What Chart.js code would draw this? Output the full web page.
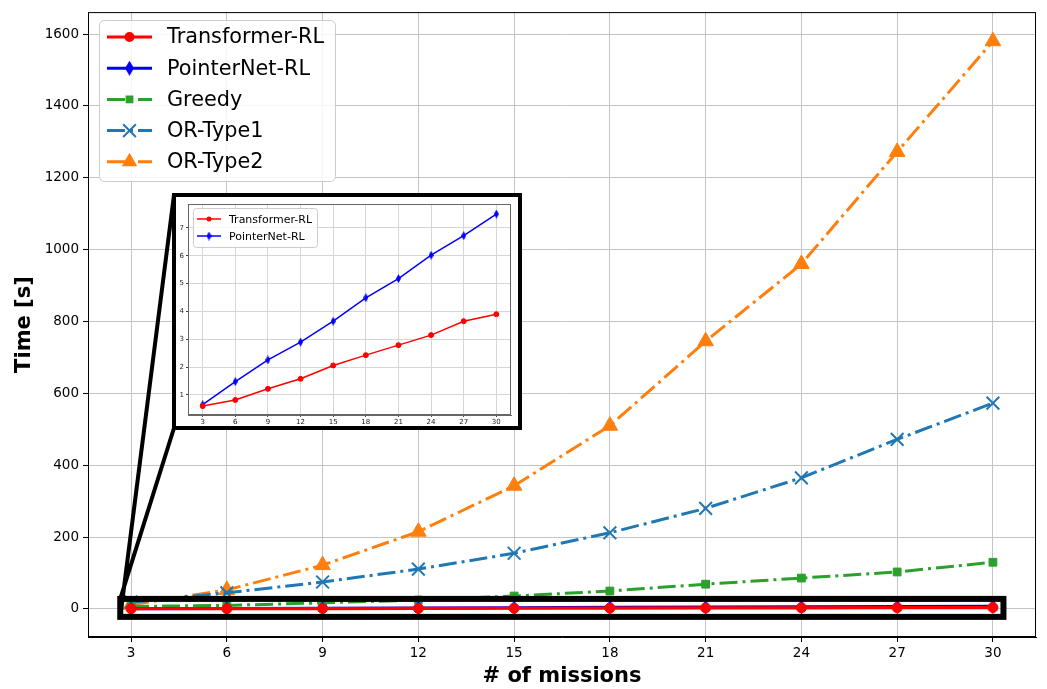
<!DOCTYPE html>
<html>
<head>
<meta charset="utf-8">
<script src="https://cdn.jsdelivr.net/npm/chart.js@4/dist/chart.umd.min.js"></script>
<style>
  body { margin: 0; background: #fff; }
  #wrap { position: relative; width: 1047px; height: 689px; }
  #main { position: absolute; left: 0; top: 0; }
  #insetBox {
    position: absolute; left: 172px; top: 193px; width: 350px; height: 237px;
    box-sizing: border-box; border: 4px solid #000; background: #fff;
  }
  #inset { display: block; }
</style>
</head>
<body>
<div id="wrap">
  <canvas id="main" width="1047" height="689"></canvas>
  <div id="insetBox"><canvas id="inset" width="342" height="229"></canvas></div>
</div>
<script>
// chart data
const missions = [3, 6, 9, 12, 15, 18, 21, 24, 27, 30];
const transformerRL = [0.6, 0.82, 1.22, 1.58, 2.06, 2.43, 2.79, 3.15, 3.65, 3.9];
const pointerNetRL = [0.65, 1.48, 2.26, 2.9, 3.65, 4.49, 5.18, 6.02, 6.72, 7.5];
const greedy = [7, 10, 17, 25, 36, 50, 69, 86, 103, 130];
const orType1 = [19, 45, 75, 111, 155, 212, 280, 365, 472, 573];
const orType2 = [12, 53, 122, 215, 343, 510, 745, 960, 1272, 1580];
const yTicksMain = [0, 200, 400, 600, 800, 1000, 1200, 1400, 1600];
const yTicksInset = [1, 2, 3, 4, 5, 6, 7];
// zoomed region shown in the inset (data units of the main chart)
const zoomX = [2.66, 30.33];
const zoomY = [-22, 28];

const FONT = "DejaVu Sans";
const dashDot = [18, 5, 3, 5];

function pts(arr) {
    return missions.map((m, i) => ({ x: m, y: arr[i] }));
}

// thin diamond marker (matplotlib 'd')
function makeDiamond(w, h, color) {
    const c = document.createElement("canvas");
    c.width = w;
    c.height = h;
    const g = c.getContext("2d");
    g.fillStyle = color;
    g.beginPath();
    g.moveTo(w / 2, 0);
    g.lineTo(w, h / 2);
    g.lineTo(w / 2, h);
    g.lineTo(0, h / 2);
    g.closePath();
    g.fill();
    return c;
}

const diamondBig = makeDiamond(9, 15, "#0000ff");
const diamondSmall = makeDiamond(5, 9, "#0000ff");

// marker drawing for the hand made legends
function drawMarker(ctx, item, x, y) {
    ctx.save();
    ctx.setLineDash([]);
    ctx.fillStyle = item.color;
    ctx.strokeStyle = item.color;
    const r = item.radius;
    if (item.style === "circle") {
        ctx.beginPath();
        ctx.arc(x, y, r, 0, Math.PI * 2);
        ctx.fill();
    } else if (item.style === "rect") {
        const s = r / Math.SQRT2;
        ctx.fillRect(x - s, y - s, 2 * s, 2 * s);
    } else if (item.style === "crossRot") {
        const s = r * Math.SQRT1_2;
        ctx.lineWidth = 2;
        ctx.beginPath();
        ctx.moveTo(x - s, y - s); ctx.lineTo(x + s, y + s);
        ctx.moveTo(x - s, y + s); ctx.lineTo(x + s, y - s);
        ctx.stroke();
    } else if (item.style === "triangle") {
        ctx.beginPath();
        ctx.moveTo(x, y - r);
        ctx.lineTo(x + r * 0.866, y + r / 2);
        ctx.lineTo(x - r * 0.866, y + r / 2);
        ctx.closePath();
        ctx.fill();
    } else {
        ctx.drawImage(item.style, x - item.style.width / 2, y - item.style.height / 2);
    }
    ctx.restore();
}

function drawLegend(ctx, items, L) {
    ctx.save();
    ctx.beginPath();
    ctx.roundRect(L.x, L.y, L.w, L.h, L.radius);
    ctx.fillStyle = "rgba(255,255,255,0.85)";
    ctx.fill();
    ctx.strokeStyle = "#cccccc";
    ctx.lineWidth = 1;
    ctx.stroke();
    ctx.font = L.fontSize + "px '" + FONT + "'";
    ctx.textBaseline = "middle";
    items.forEach((item, i) => {
        const y = L.rowY + i * L.rowH;
        ctx.strokeStyle = item.color;
        ctx.lineWidth = item.width;
        ctx.setLineDash(item.dash);
        ctx.beginPath();
        ctx.moveTo(L.hx0, y);
        ctx.lineTo(L.hx1, y);
        ctx.stroke();
        ctx.setLineDash([]);
        drawMarker(ctx, item, (L.hx0 + L.hx1) / 2, y);
        ctx.fillStyle = "#000";
        ctx.fillText(item.label, L.tx, y + 1);
    });
    ctx.restore();
}

const mainItems = [
    { label: "Transformer-RL", color: "#ff0000", style: "circle", radius: 5, width: 3.2, dash: [] },
    { label: "PointerNet-RL", color: "#0000ff", style: diamondBig, radius: 0, width: 3, dash: [] },
    { label: "Greedy", color: "#2ca02c", style: "rect", radius: 5.5, width: 3, dash: dashDot },
    { label: "OR-Type1", color: "#1f77b4", style: "crossRot", radius: 9, width: 3, dash: dashDot },
    { label: "OR-Type2", color: "#ff7f0e", style: "triangle", radius: 9, width: 3, dash: dashDot }
];

const insetItems = [
    { label: "Transformer-RL", color: "#ff0000", style: "circle", radius: 2.5, width: 1.5, dash: [] },
    { label: "PointerNet-RL", color: "#0000ff", style: diamondSmall, radius: 0, width: 1.5, dash: [] }
];

function mainDataset(item, values) {
    return {
        label: item.label,
        data: pts(values),
        borderColor: item.color,
        backgroundColor: item.color,
        borderWidth: item.width,
        borderDash: item.dash,
        pointStyle: item.style,
        pointRadius: item.radius || 6,
        pointBorderWidth: item.style === "crossRot" ? 2 : 1,
        pointBorderColor: item.color,
        pointBackgroundColor: item.color,
        tension: 0
    };
}

// full axes frame
const framePlugin = {
    id: "frame",
    beforeDatasetsDraw(chart, args, opts) {
        const a = chart.chartArea;
        const ctx = chart.ctx;
        ctx.save();
        ctx.strokeStyle = opts.color;
        ctx.lineWidth = 1;
        ctx.strokeRect(a.left + 0.5, a.top + 0.5, a.right - a.left - 1, a.bottom - a.top - 1);
        ctx.restore();
    }
};

// zoom rectangle and the lines to the inset
const zoomPlugin = {
    id: "zoomMark",
    afterDatasetsDraw(chart) {
        const xs = chart.scales.x, ys = chart.scales.y;
        const x0 = xs.getPixelForValue(zoomX[0]), x1 = xs.getPixelForValue(zoomX[1]);
        const y0 = ys.getPixelForValue(zoomY[1]), y1 = ys.getPixelForValue(zoomY[0]);
        const box = document.getElementById("insetBox");
        const bx = box.offsetLeft + 2, by0 = box.offsetTop + 2, by1 = box.offsetTop + box.offsetHeight - 2;
        const ctx = chart.ctx;
        ctx.save();
        ctx.strokeStyle = "#000";
        ctx.lineWidth = 4;
        ctx.beginPath();
        ctx.moveTo(bx, by0); ctx.lineTo(x0, y1);
        ctx.moveTo(bx, by1); ctx.lineTo(x0, y0);
        ctx.stroke();
        ctx.lineWidth = 6;
        ctx.strokeRect(x0, y0, x1 - x0, y1 - y0);
        ctx.restore();
    }
};

const mainLegendPlugin = {
    id: "mainLegend",
    afterDraw(chart) {
        drawLegend(chart.ctx, mainItems, {
            x: 99.5, y: 20.5, w: 236, h: 161, radius: 5,
            hx0: 107, hx1: 152, tx: 167, rowY: 37, rowH: 31.2, fontSize: 20.8
        });
    }
};

new Chart(document.getElementById("main").getContext("2d"), {
    type: "line",
    data: {
        datasets: [
            mainDataset(mainItems[0], transformerRL),
            mainDataset(mainItems[1], pointerNetRL),
            mainDataset(mainItems[2], greedy),
            mainDataset(mainItems[3], orType1),
            mainDataset(mainItems[4], orType2)
        ]
    },
    options: {
        responsive: false,
        animation: false,
        devicePixelRatio: 1,
        layout: { padding: { left: 0, top: 9, right: 10, bottom: 0 } },
        plugins: {
            legend: { display: false },
            tooltip: { enabled: false },
            frame: { color: "#000" }
        },
        scales: {
            x: {
                type: "linear",
                min: 1.65,
                max: 31.35,
                afterFit: s => { s.height = 52; },
                afterBuildTicks: s => { s.ticks = missions.map(v => ({ value: v })); },
                ticks: {
                    font: { family: FONT, size: 13.5 },
                    color: "#000",
                    padding: 3,
                    maxRotation: 0,
                    autoSkip: false,
                    callback: v => String(v)
                },
                grid: { color: "#c4c4c4", tickColor: "#000", tickLength: 5 },
                border: { color: "#000" },
                title: {
                    display: true,
                    text: "# of missions",
                    font: { family: FONT, size: 21, weight: "bold" },
                    color: "#000",
                    padding: { top: 0, bottom: 0 }
                }
            },
            y: {
                type: "linear",
                min: -78,
                max: 1661,
                afterFit: s => { s.width = 88; },
                afterBuildTicks: s => { s.ticks = yTicksMain.map(v => ({ value: v })); },
                ticks: {
                    font: { family: FONT, size: 13.5 },
                    color: "#000",
                    padding: 4,
                    autoSkip: false,
                    callback: v => String(v)
                },
                grid: { color: "#c4c4c4", tickColor: "#000", tickLength: 5 },
                border: { color: "#000" },
                title: {
                    display: true,
                    text: "Time [s]",
                    font: { family: FONT, size: 21, weight: "bold" },
                    color: "#000",
                    padding: { top: 12, bottom: 0 }
                }
            }
        }
    },
    plugins: [framePlugin, zoomPlugin, mainLegendPlugin]
});

// inset chart
const insetLegendPlugin = {
    id: "insetLegend",
    afterDraw(chart) {
        drawLegend(chart.ctx, insetItems, {
            x: 17.5, y: 11.5, w: 124, h: 39, radius: 3,
            hx0: 21, hx1: 45, tx: 53, rowY: 22, rowH: 17, fontSize: 11
        });
    }
};

new Chart(document.getElementById("inset").getContext("2d"), {
    type: "line",
    data: {
        datasets: [
            mainDataset(insetItems[0], transformerRL),
            mainDataset(insetItems[1], pointerNetRL)
        ]
    },
    options: {
        responsive: false,
        animation: false,
        devicePixelRatio: 1,
        layout: { padding: { left: 0, top: 7, right: 1, bottom: 0 } },
        plugins: {
            legend: { display: false },
            tooltip: { enabled: false },
            frame: { color: "#666" }
        },
        scales: {
            x: {
                type: "linear",
                min: 1.65,
                max: 31.35,
                afterFit: s => { s.height = 11; },
                afterBuildTicks: s => { s.ticks = missions.map(v => ({ value: v })); },
                ticks: {
                    font: { family: FONT, size: 7 },
                    color: "#222",
                    padding: 1,
                    maxRotation: 0,
                    autoSkip: false,
                    callback: v => String(v)
                },
                grid: { color: "#d6d6d6", tickColor: "#444", tickLength: 2 },
                border: { color: "#666" }
            },
            y: {
                type: "linear",
                min: 0.28,
                max: 7.86,
                afterFit: s => { s.width = 12; },
                afterBuildTicks: s => { s.ticks = yTicksInset.map(v => ({ value: v })); },
                ticks: {
                    font: { family: FONT, size: 7 },
                    color: "#222",
                    padding: 2,
                    autoSkip: false,
                    callback: v => String(v)
                },
                grid: { color: "#d6d6d6", tickColor: "#444", tickLength: 2 },
                border: { color: "#666" }
            }
        }
    },
    plugins: [framePlugin, insetLegendPlugin]
});
</script>
</body>
</html>
